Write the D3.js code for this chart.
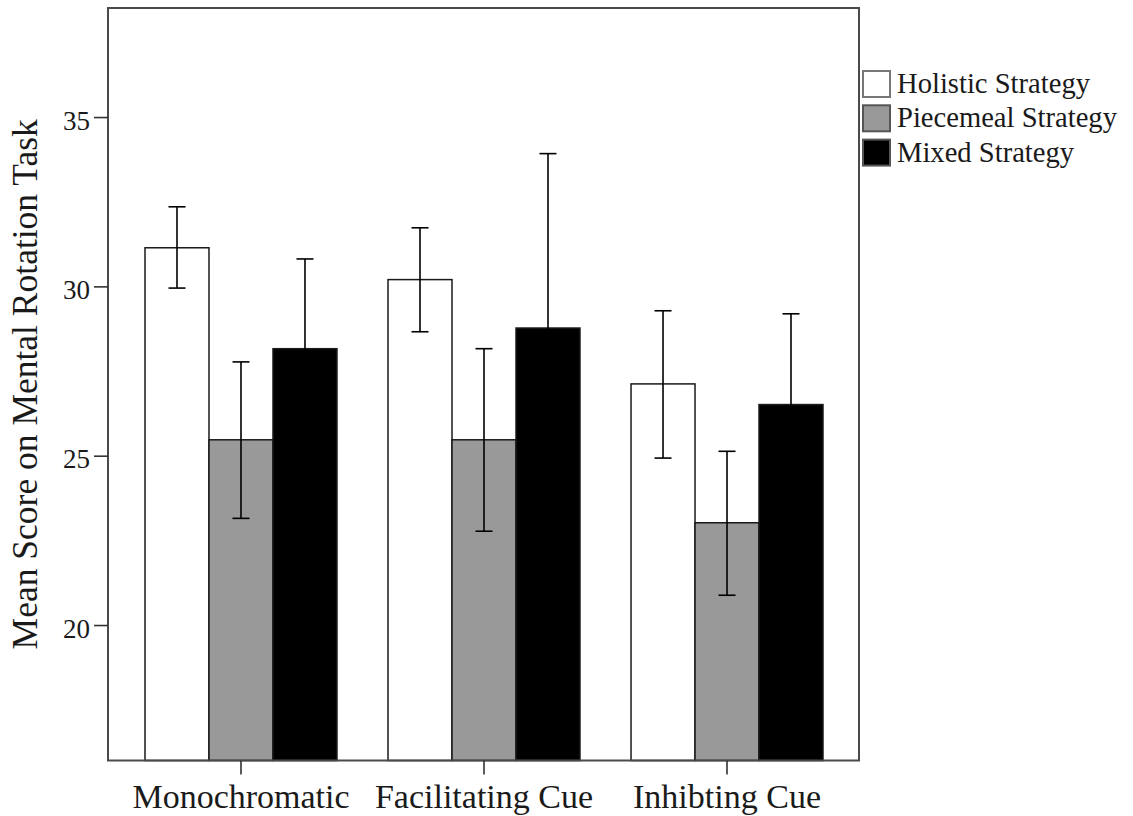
<!DOCTYPE html>
<html>
<head>
<meta charset="utf-8">
<script src="https://cdn.jsdelivr.net/npm/d3@7"></script>
<style>
  html, body { margin: 0; padding: 0; background: #fff; }
  svg { display: block; }
  text { font-family: "Liberation Serif", "Times New Roman", serif; fill: #1a1a1a; }
</style>
</head>
<body>
<svg id="chart" width="1133" height="816"></svg>
<script>
// ---- data ----
const categories = ["Monochromatic", "Facilitating Cue", "Inhibting Cue"];
const seriesNames = ["Holistic Strategy", "Piecemeal Strategy", "Mixed Strategy"];
const seriesColors = ["#ffffff", "#999999", "#000000"];
const holisticMean  = [31.14, 30.20, 27.12];
const holisticLow   = [29.95, 28.66, 24.93];
const holisticHigh  = [32.35, 31.73, 29.28];
const piecemealMean = [25.47, 25.47, 23.02];
const piecemealLow  = [23.15, 22.77, 20.88];
const piecemealHigh = [27.77, 28.16, 25.13];
const mixedMean     = [28.16, 28.77, 26.51];
const mixedLow      = [25.51, 23.62, 23.83];
const mixedHigh     = [30.81, 33.92, 29.19];
const yTicks = [20, 25, 30, 35];
const yTitle = "Mean Score on Mental Rotation Task";

const means = [holisticMean, piecemealMean, mixedMean];
const lows = [holisticLow, piecemealLow, mixedLow];
const highs = [holisticHigh, piecemealHigh, mixedHigh];

// ---- layout ----
const frame = { left: 108, right: 859, top: 8, bottom: 760.5 };
const svg = d3.select("#chart");

const y = d3.scaleLinear().domain([16, 38.22]).range([frame.bottom, frame.top]);
const x = d3.scaleBand().domain(categories).range([145, 823]).paddingInner(0.21).paddingOuter(0);
const xs = d3.scaleBand().domain(seriesNames).range([0, x.bandwidth()]).padding(0);

const rows = [];
categories.forEach((c, ci) => {
  seriesNames.forEach((s, si) => {
    rows.push({ c, s, si, mean: means[si][ci], lo: lows[si][ci], hi: highs[si][ci] });
  });
});

// bars
svg.append("g").selectAll("rect").data(rows).join("rect")
  .attr("x", d => x(d.c) + xs(d.s))
  .attr("y", d => y(d.mean))
  .attr("width", xs.bandwidth())
  .attr("height", d => frame.bottom - y(d.mean))
  .attr("fill", d => seriesColors[d.si])
  .attr("stroke", "#1a1a1a")
  .attr("stroke-width", 1.5);

// error bars
const eb = svg.append("g").attr("stroke", "#000").attr("stroke-width", 1.6);
rows.forEach(d => {
  const cx = x(d.c) + xs(d.s) + xs.bandwidth() / 2;
  eb.append("line").attr("x1", cx).attr("x2", cx).attr("y1", y(d.lo)).attr("y2", y(d.hi));
  eb.append("line").attr("x1", cx - 8.5).attr("x2", cx + 8.5).attr("y1", y(d.hi)).attr("y2", y(d.hi));
  eb.append("line").attr("x1", cx - 8.5).attr("x2", cx + 8.5).attr("y1", y(d.lo)).attr("y2", y(d.lo));
});

// frame
svg.append("rect")
  .attr("x", frame.left).attr("y", frame.top)
  .attr("width", frame.right - frame.left).attr("height", frame.bottom - frame.top)
  .attr("fill", "none").attr("stroke", "#4a4a4a").attr("stroke-width", 2);

// y axis
const yAxis = svg.append("g").attr("transform", `translate(${frame.left},0)`)
  .call(d3.axisLeft(y).tickValues(yTicks).tickSize(14).tickPadding(4).tickFormat(d3.format("d")));
yAxis.select(".domain").remove();
yAxis.selectAll(".tick line").attr("stroke", "#333").attr("stroke-width", 1.6);
yAxis.selectAll(".tick text").attr("font-size", 27).attr("dy", "0.45em")
  .style("font-family", '"Liberation Serif", "Times New Roman", serif').attr("fill", "#1a1a1a");

// x axis
const xAxis = svg.append("g").attr("transform", `translate(0,${frame.bottom})`)
  .call(d3.axisBottom(x).tickSize(14).tickPadding(9));
xAxis.select(".domain").remove();
xAxis.selectAll(".tick line").attr("stroke", "#333").attr("stroke-width", 1.6);
xAxis.selectAll(".tick text").attr("font-size", 34)
  .style("font-family", '"Liberation Serif", "Times New Roman", serif').attr("fill", "#1a1a1a");

// y title
svg.append("text")
  .attr("transform", `translate(37,${(frame.top + frame.bottom) / 2}) rotate(-90)`)
  .attr("text-anchor", "middle")
  .attr("font-size", 35.5)
  .text(yTitle);

// legend
const lg = svg.append("g").attr("transform", "translate(863,71)");
seriesNames.forEach((s, i) => {
  const g = lg.append("g").attr("transform", `translate(0,${i * 34.3})`);
  g.append("rect").attr("x", 0).attr("y", 0).attr("width", 27).attr("height", 26)
    .attr("fill", seriesColors[i]).attr("stroke", i === 0 ? "#777" : "#555").attr("stroke-width", 2);
  g.append("text").attr("x", 34).attr("y", 22).attr("font-size", 28.6).text(s);
});
</script>
</body>
</html>
